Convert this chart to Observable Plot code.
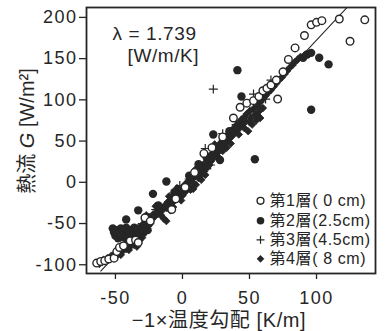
<!DOCTYPE html>
<html><head><meta charset="utf-8">
<script src="https://cdn.jsdelivr.net/npm/d3@7"></script>
<script src="https://cdn.jsdelivr.net/npm/@observablehq/plot@0.6"></script>
<style>
body{margin:0;background:#fff;}
#chart{width:385px;height:331px;}
</style></head><body><div id="chart"></div>
<script>
// Layer 1 (0 cm) – open circles
const layer1 = [[-64,-98],[-61,-96],[-58,-95],[-55,-93],[-51,-92],[-49,-84],[-47,-79],[-44,-77],[-39,-71],[-35,-70],[-33,-73],[-28,-43],[-24,-47],[-8,-33],[-5,-20],[2,-6],[9,12],[16,35],[22,42],[30,55],[38,78],[43,91],[48,96],[53,99],[57,104],[60,111],[63,114],[66,118],[71,101],[70,124],[75,134],[79,149],[84,163],[91,178],[96,191],[100,194],[104,196],[117,198],[125,171],[136,197]];
// Layer 2 (2.5 cm) – filled circles
const layer2 = [[-42,-45],[-33,-34],[-22,-14],[-12,1],[23,58],[28,27],[54,28],[41,136],[44,104],[96,88],[90,151],[93,155],[96,157],[102,151],[109,143],
[-52,-56],[-51,-61],[-50,-65],[-49,-58],[-48,-68],[-47,-62],[-46,-56],[-45,-66],[-44,-60],[-42,-68],[-42,-55],[-41,-63],[-39,-58],[-38,-67],[-37,-62],[-36,-55],[-35,-66],[-34,-60],[-33,-56],[-32,-64],[-31,-59],[-30,-54],[-29,-61],[-28,-56],[-27,-51],[-26,-58],[-25,-50],
[-50,-60],[-46,-64],[-40,-60],[-36,-63],[-30,-58],
[-18,-28],[-6,-12],[5,8],[12,22],[18,30],[35,62]];
// Layer 3 (4.5 cm) – plus
const layer3 = [[23,113],[53,107],[62,101],[66,124],[30,59],[17,41],[21,21],[53,91],[-2,-4],[-30,-50],[-40,-72],[-20,-33],[5,4],[40,70]];
// Layer 4 (8 cm) – diamonds
const layer4 = [[-62,-99],[-60,-97],[-59,-94],[-57,-96],[-56,-92],[-54,-93],[-53,-89],[-51,-90],[-50,-86],[-48,-87],[-47,-83],[-45,-84],[-44,-80],[-42,-81],[-41,-77],[-39,-78],[-38,-74],[-36,-76],[-35,-72],[-33,-74],[-32,-70],[-30,-67],[-46,-88],[-40,-82],[-34,-78],
[-29,-50],[-28,-45],[-26,-48],[-25,-42],[-23,-45],[-22,-39],[-21,-42],[-19,-35],[-18,-38],[-17,-31],[-15,-34],[-14,-44],[-13,-28],[-12,-47],[-12,-31],[-11,-24],[-10,-28],[-9,-34],[-8,-20],[-7,-24],[-6,-16],[-5,-21],[-3,-12],[-2,-17],[0,-8],[1,-13],[2,-4],[3,-10],[4,0],[5,-5],[7,3],[8,-1],[9,7],[10,-3],[11,11],[12,5],[13,15],[14,9],[15,19],[16,13],[17,23],[18,17],[19,27],[20,31],[21,25],[22,35],[23,29],[24,39],[25,33],[26,43],[27,37],[28,47],[29,41],[30,51],[31,45],[32,55],[33,49],[34,58],[35,53],[36,62],[37,56],[38,65],[39,60],[40,69],[41,63],[42,72],[43,67],[44,76],[45,70],[46,79],[47,74],[48,83],[49,62],[50,86],[51,78],[52,70],[53,89],[54,82],[55,75],[56,93],[57,86],[58,78],[58,97],[60,90],[60,101],[62,105],[64,109],[66,112],[68,116],[70,120],[72,124],[74,127],[76,131],[78,135],[80,139],[82,142],[84,146],[86,149],[88,152],[91,154],
[-27,-40],[-24,-50],[-20,-29],[-16,-40],[-10,-17],[-4,-7],[0,-16],[6,-9],[10,16],[14,3],[20,21],[24,46],[30,38],[36,47],[42,58],[46,66],[50,73],[56,81],[-1,-22],[-7,-30],[8,-8],[17,9],[27,30],[33,42]];

const seriesNames = ["第1層( 0 cm)", "第2層(2.5cm)", "第3層(4.5cm)", "第4層( 8 cm)"];
const xTicks = [-50, 0, 50, 100];
const yTicks = [-100, -50, 0, 50, 100, 150, 200];
const LAMBDA = 1.739;
const fitIntercept = -1.5;
const fitRange = [-61, 123];
const lambdaLabel = "λ = 1.739";
const unitLabel = "[W/m/K]";
const xLabel = "−1×温度勾配 [K/m]";
const yLabelParts = ["熱流 ", "G", " [W/m²]"];

const rows = arr => arr.map(([x, y]) => ({x, y}));
const fit = fitRange.map(x => ({x, y: LAMBDA * x + fitIntercept}));

const FONT = "'Liberation Sans', Arial, 'Noto Sans CJK JP', sans-serif";
const ink = "#262626";

const styles = [
  {symbol: "circle", r: 3.8, fill: "white", stroke: ink, strokeWidth: 1.4},
  {symbol: "circle", r: 4.2, fill: ink, stroke: "none"},
  {symbol: "plus", r: 3, fill: "none", stroke: ink, strokeWidth: 1.2},
  {symbol: "diamond2", r: 3.4, fill: ink, stroke: ink, strokeWidth: 0.8}
];
const legendDy = [-72.7, -52.7, -33.7, -14.7];

const legendMarks = seriesNames.flatMap((name, i) => [
  Plot.dot([name], {frameAnchor: "bottom-right", dx: -115, dy: legendDy[i], ...styles[i], r: styles[i].r * 0.9}),
  Plot.text([name], {frameAnchor: "bottom-right", dx: -106, dy: legendDy[i], textAnchor: "start", lineAnchor: "middle", fontSize: 16, fill: ink})
]);

const plot = Plot.plot({
  width: 385, height: 331,
  marginLeft: 86, marginRight: 10, marginTop: 7, marginBottom: 58,
  style: {fontFamily: FONT, fontSize: "18px", color: ink, background: "white"},
  x: {domain: [-71.6, 144]},
  y: {domain: [-110.6, 212]},
  marks: [
    Plot.line(fit, {x: "x", y: "y", stroke: ink, strokeWidth: 1.1, clip: true}),
    Plot.dot(rows(layer4), {x: "x", y: "y", ...styles[3]}),
    Plot.dot(rows(layer2), {x: "x", y: "y", ...styles[1]}),
    Plot.dot(rows(layer3), {x: "x", y: "y", ...styles[2]}),
    Plot.dot(rows(layer1), {x: "x", y: "y", ...styles[0]}),
    Plot.frame({stroke: ink, strokeWidth: 1.8}),
    Plot.axisX({ticks: xTicks, tickSize: 6, tickPadding: 12, tickFormat: d => String(d), label: null, fontSize: 18, stroke: ink, strokeWidth: 1.3}),
    Plot.axisY({ticks: yTicks, tickSize: 7, tickPadding: 2, tickFormat: d => String(d), label: null, fontSize: 18, stroke: ink, strokeWidth: 1.3}),
    Plot.text([lambdaLabel], {frameAnchor: "top-left", dx: 26, dy: 26, textAnchor: "start", lineAnchor: "middle", fontSize: 19, fill: ink}),
    Plot.text([unitLabel], {frameAnchor: "top-left", dx: 41, dy: 48, textAnchor: "start", lineAnchor: "middle", fontSize: 19, fill: ink}),
    Plot.text([xLabel], {frameAnchor: "bottom", dx: -12, dy: 47, lineAnchor: "middle", fontSize: 20, fill: ink}),
    ...legendMarks
  ]
});

const svg = d3.select(plot);
// wider letter spacing to match the reference's broad glyphs
svg.selectAll("g[aria-label='x-axis tick label'] text, g[aria-label='y-axis tick label'] text").style("letter-spacing", "1.5px");
svg.selectAll("g[aria-label='text'] text").style("letter-spacing", "0.6px");

const yl = svg.append("text")
  .attr("transform", "translate(27,131) rotate(-90)")
  .attr("text-anchor", "middle")
  .attr("dominant-baseline", "central")
  .attr("fill", ink)
  .style("font-family", FONT)
  .style("font-size", "20px");
yl.append("tspan").text(yLabelParts[0]);
yl.append("tspan").style("font-style", "italic").text(yLabelParts[1]);
yl.append("tspan").text(yLabelParts[2]);

document.getElementById("chart").appendChild(plot);
</script></body></html>
